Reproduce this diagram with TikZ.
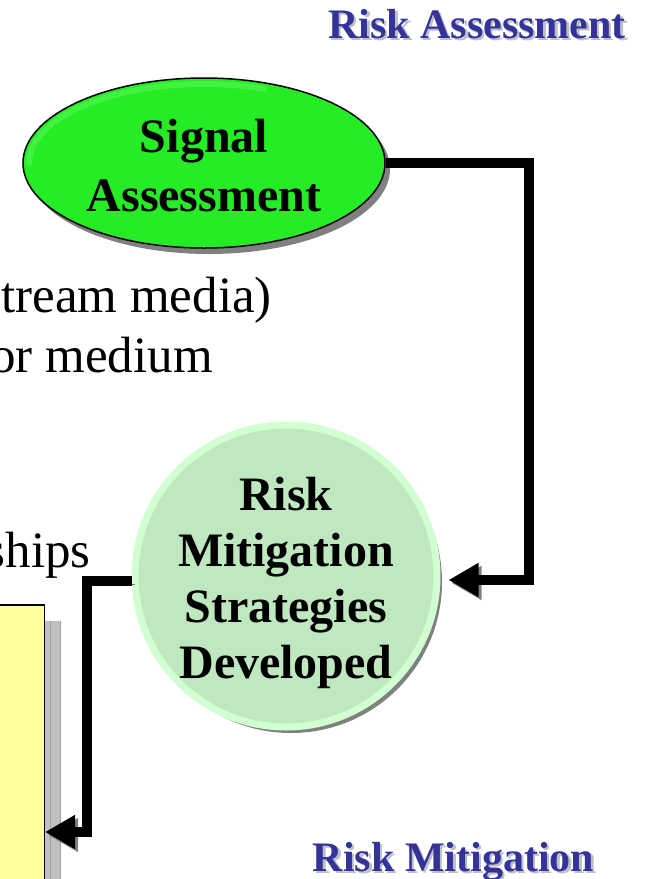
\documentclass[tikz,border=0pt]{standalone}
\usepackage{fontspec}
\setmainfont{Liberation Serif}
\usetikzlibrary{shapes.geometric,arrows.meta,shadows}

\definecolor{titleblue}{RGB}{51,51,153}
\definecolor{signalgreen}{RGB}{38,236,38}
\definecolor{signalglow}{RGB}{66,242,66}
\definecolor{mitigreen}{RGB}{192,232,192}
\definecolor{mitirim}{RGB}{210,255,210}
\definecolor{noteyellow}{RGB}{255,255,160}
\definecolor{shadowgray}{RGB}{128,128,128}
\definecolor{panelgray}{RGB}{192,192,192}
\definecolor{panelline}{RGB}{160,160,160}
\definecolor{textshade}{RGB}{190,190,200}

\tikzset{
  heading/.style={font=\fontsize{42}{48}\selectfont\bfseries, text=titleblue, inner sep=0, anchor=base},
  headshade/.style={font=\fontsize{42}{48}\selectfont\bfseries, text=textshade, inner sep=0, anchor=base},
  bodytext/.style={font=\fontsize{51}{60}\selectfont, inner sep=0, anchor=base east},
  shapetext/.style={align=center, inner sep=0},
  connector/.style={line width=10pt, draw=black, line join=miter,
    -{Triangle[length=30pt,width=32pt]},
    preaction={draw=shadowgray, transform canvas={xshift=3pt,yshift=-3pt}}},
}

\begin{document}
\begin{tikzpicture}[x=1pt,y=-1pt]
\useasboundingbox (0,0) rectangle (646,879);
\clip (0,0) rectangle (646,879);

% headings with soft shadow
\node[headshade] at (479.5,40) {Risk Assessment};
\node[heading] (hassess) at (477,38) {Risk Assessment};
\node[headshade] at (456,873) {Risk Mitigation};
\node[heading] (hmitig) at (453.5,871) {Risk Mitigation};

% body text running off the left edge
\node[bodytext] (line1) at (272,312) {tream media)};
\node[bodytext] (line2) at (213,372) {or medium};
\node[bodytext] (line3) at (91,567) {ships};

% signal assessment ellipse
\node[ellipse, draw=black, line width=1.5pt, fill=signalgreen,
      minimum width=362pt, minimum height=170pt, inner sep=0,
      drop shadow={shadow xshift=5pt, shadow yshift=-6pt, fill=shadowgray, opacity=1}]
      (signal) at (204,163) {};
\draw[signalglow, line width=6pt, line cap=round] ([shift={(-175pt,0pt)}]signal.center)
      arc[start angle=180, end angle=70, x radius=175pt, y radius=79pt];
\node[shapetext, font=\fontsize{48}{59}\selectfont\bfseries] (signaltext) at (204,166)
      {Signal\\Assessment};

% mitigation circle
\node[circle, draw=mitirim, line width=7pt, fill=mitigreen,
      minimum size=302pt, inner sep=0,
      drop shadow={shadow xshift=5pt, shadow yshift=-6pt, fill=shadowgray, opacity=1}]
      (strategies) at (286,576) {};
\node[shapetext, font=\fontsize{48}{56}\selectfont\bfseries] (strattext) at (286,582.5)
      {Risk\\Mitigation\\Strategies\\Developed};

% yellow note panel on the left with its grey shadow
\node[rectangle, draw=black, line width=1.5pt, fill=noteyellow,
      minimum width=100pt, minimum height=320pt, inner sep=0, anchor=north east,
      drop shadow={shadow xshift=17pt, shadow yshift=-16pt, fill=panelgray, opacity=1}]
      (notepanel) at (45,604) {};
\begin{scope}
  \clip (46,621) rectangle (62,879);
  \draw[panelline, line width=0.8pt, step=10] (40,620) grid (70,880);
\end{scope}

% connectors
\draw[connector] (signal.east) -| (529,580) -- ([xshift=8pt,yshift=-4pt]strategies.east);
\draw[connector] ([yshift=-5pt]strategies.west) -| (87,832) -- ([yshift=-228pt]notepanel.north east);
\end{tikzpicture}
\end{document}
